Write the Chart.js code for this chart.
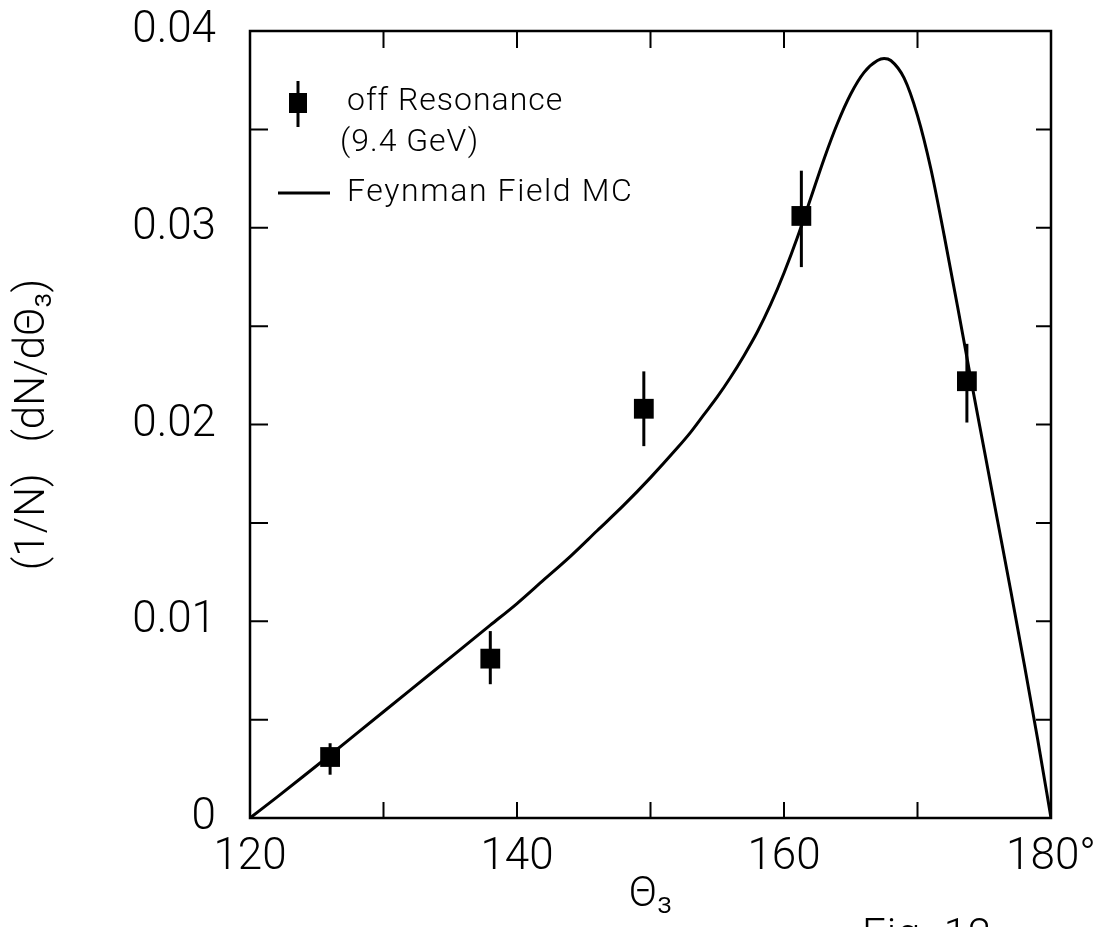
<!DOCTYPE html>
<html>
<head>
<meta charset="utf-8">
<script src="https://cdn.jsdelivr.net/npm/chart.js@4/dist/chart.umd.min.js"></script>
<style>
    html, body { margin: 0; padding: 0; background: #fff; }
    #wrap { width: 1117px; height: 927px; }
</style>
</head>
<body>
<div id="wrap"><canvas id="theta3"></canvas></div>
<script>
// measured points, off resonance (9.4 GeV)
var thetaPts = [126, 138, 149.5, 161.3, 173.7]
var yPts = [0.0031, 0.0081, 0.0208, 0.0306, 0.0222]
var yLow = [0.0022, 0.0068, 0.0189, 0.0280, 0.0201]
var yHigh = [0.0038, 0.0095, 0.0227, 0.0329, 0.0241]

// Feynman Field MC curve
var thetaMC = [120, 122, 124, 126, 128, 130, 132, 134, 136, 138, 140, 142, 144, 146, 148, 150,
    152, 153, 154, 155, 156, 157, 158, 159, 160, 161, 162, 163, 164, 165, 166, 167, 167.5, 168,
    169, 170, 171, 172, 173, 174, 175, 176, 177, 178, 179, 180]
var yMC = [0, 0.00105, 0.00212, 0.0032, 0.0043, 0.0054, 0.0065, 0.0076, 0.0087, 0.0098, 0.0109,
    0.0121, 0.0133, 0.0146, 0.0159, 0.0173, 0.0188, 0.0196, 0.0205, 0.0214, 0.0224, 0.0235,
    0.0247, 0.0261, 0.0277, 0.0295, 0.0315, 0.0335, 0.0353, 0.0368, 0.0379, 0.0385, 0.0386,
    0.0385, 0.0376, 0.0357, 0.0330, 0.0296, 0.0260, 0.0223, 0.0187, 0.0151, 0.0115, 0.0078,
    0.0040, 0]

var xTicks = [120, 130, 140, 150, 160, 170, 180]
var yTicks = [0, 0.005, 0.01, 0.015, 0.02, 0.025, 0.03, 0.035, 0.04]

var labels = {
    points: ['off Resonance', '(9.4 GeV)'],
    curve: 'Feynman Field MC',
    xTitle: 'Θ₃',
    yTitle: '(1/N)   (dN/dΘ₃)',
    fig: 'Fig. 12'
}

var FONT = 'Roboto, "DejaVu Sans", sans-serif'

var pts = thetaPts.map(function (t, i) { return { x: t, y: yPts[i] } })
var mc = thetaMC.map(function (t, i) { return { x: t, y: yMC[i] } })

// frame, inward ticks, error bars and legend
var plotExtras = {
    id: 'plotExtras',
    beforeDatasetsDraw: function (chart) {
        var ctx = chart.ctx
        var xs = chart.scales.x, ys = chart.scales.y
        ctx.save()
        ctx.strokeStyle = '#000'
        ctx.lineWidth = 3
        thetaPts.forEach(function (t, i) {
            var px = xs.getPixelForValue(t)
            ctx.beginPath()
            ctx.moveTo(px, ys.getPixelForValue(yLow[i]))
            ctx.lineTo(px, ys.getPixelForValue(yHigh[i]))
            ctx.stroke()
        })
        ctx.restore()
    },
    afterDraw: function (chart) {
        var ctx = chart.ctx
        var a = chart.chartArea
        var xs = chart.scales.x, ys = chart.scales.y
        ctx.save()
        ctx.strokeStyle = '#000'
        ctx.lineWidth = 2.5
        ctx.strokeRect(a.left, a.top, a.right - a.left, a.bottom - a.top)

        // ticks pointing inwards on all four sides
        ctx.lineWidth = 2
        ctx.beginPath()
        xTicks.slice(1, -1).forEach(function (v) {
            var px = xs.getPixelForValue(v)
            ctx.moveTo(px, a.bottom); ctx.lineTo(px, a.bottom - 16)
            ctx.moveTo(px, a.top); ctx.lineTo(px, a.top + 17)
        })
        yTicks.slice(1, -1).forEach(function (v) {
            var py = ys.getPixelForValue(v)
            ctx.moveTo(a.left, py); ctx.lineTo(a.left + 18, py)
            ctx.moveTo(a.right, py); ctx.lineTo(a.right - 15, py)
        })
        ctx.stroke()

        // legend
        var lx = a.left + 48, ly = a.top + 72
        ctx.lineWidth = 3
        ctx.beginPath()
        ctx.moveTo(lx, ly - 22); ctx.lineTo(lx, ly + 24)
        ctx.stroke()
        ctx.fillStyle = '#000'
        ctx.fillRect(lx - 9, ly - 10, 18, 20)

        ctx.beginPath()
        ctx.moveTo(a.left + 28, a.top + 162); ctx.lineTo(a.left + 80, a.top + 162)
        ctx.stroke()

        ctx.font = '300 32px ' + FONT
        ctx.letterSpacing = '1px'
        ctx.textBaseline = 'middle'
        ctx.textAlign = 'left'
        ctx.fillText(labels.points[0], a.left + 97, a.top + 71)
        ctx.fillText(labels.points[1], a.left + 90, a.top + 112)
        ctx.letterSpacing = '1.6px'
        ctx.fillText(labels.curve, a.left + 97, a.top + 162)

        // figure number, cut by the page edge
        ctx.letterSpacing = '1px'
        ctx.font = '300 42px ' + FONT
        ctx.textBaseline = 'top'
        ctx.fillText(labels.fig, 862, 916)
        ctx.restore()
    }
}

new Chart(document.getElementById('theta3').getContext('2d'), {
    type: 'scatter',
    data: {
        datasets: [{
            label: labels.curve,
            data: mc,
            showLine: true,
            borderColor: '#000',
            borderWidth: 3,
            pointRadius: 0,
            cubicInterpolationMode: 'monotone',
            order: 2
        }, {
            label: labels.points.join(' '),
            data: pts,
            pointStyle: 'rect',
            pointRadius: 14,
            backgroundColor: '#000',
            borderColor: '#000',
            borderWidth: 0,
            order: 1
        }]
    },
    options: {
        responsive: true,
        maintainAspectRatio: false,
        animation: false,
        layout: {
            padding: { left: 0, top: 31, right: 66, bottom: 0 }
        },
        plugins: {
            legend: { display: false },
            tooltip: { enabled: false }
        },
        scales: {
            x: {
                type: 'linear',
                min: 120,
                max: 180,
                afterBuildTicks: function (s) {
                    s.ticks = xTicks.map(function (v) { return { value: v } })
                },
                afterFit: function (s) {
                    s.height = 109
                    s.paddingLeft = 0
                    s.paddingRight = 0
                },
                grid: { display: false, drawTicks: false },
                border: { display: false },
                ticks: {
                    autoSkip: false,
                    maxRotation: 0,
                    padding: 14,
                    color: '#000',
                    font: { family: FONT, size: 44, weight: '300' },
                    callback: function (v) {
                        if (v % 20 !== 0) return ''
                        return v === 180 ? '180°' : '' + v
                    }
                },
                title: {
                    display: true,
                    text: labels.xTitle,
                    color: '#000',
                    font: { family: FONT, size: 42, weight: '300' },
                    padding: { top: 0, bottom: 6 }
                }
            },
            y: {
                type: 'linear',
                min: 0,
                max: 0.04,
                afterBuildTicks: function (s) {
                    s.ticks = yTicks.map(function (v) { return { value: v } })
                },
                afterFit: function (s) {
                    s.width = 250
                    s.paddingTop = 0
                    s.paddingBottom = 0
                },
                grid: { display: false, drawTicks: false },
                border: { display: false },
                ticks: {
                    autoSkip: false,
                    padding: 34,
                    color: '#000',
                    font: { family: FONT, size: 44, weight: '300' },
                    callback: function (v) {
                        var r = Math.round(v / 0.005)
                        if (r % 2 !== 0) return ''
                        return r === 0 ? '0' : (r * 0.005).toFixed(2)
                    }
                },
                title: {
                    display: true,
                    text: labels.yTitle,
                    color: '#000',
                    font: { family: FONT, size: 42, weight: '300' },
                    padding: { top: 8, bottom: 0 }
                }
            }
        }
    },
    plugins: [plotExtras]
})
</script>
</body>
</html>
